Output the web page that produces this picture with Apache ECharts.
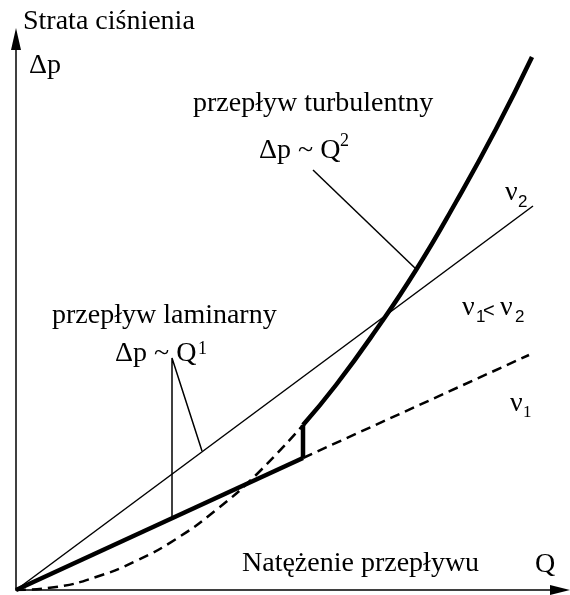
<!DOCTYPE html>
<html>
<head>
<meta charset="utf-8">
<script src="https://cdn.jsdelivr.net/npm/echarts@6/dist/echarts.min.js"></script>
<style>
  html, body { margin: 0; padding: 0; background: #fff; }
  #main { width: 570px; height: 595px; }
</style>
</head>
<body>
<div id="main"></div>
<script>
// units: Q and dp in arbitrary units (1 unit ~ 10 px of the drawing)
var nu2Line = [[0, 0], [51.7, 38.4]];
var nu1Laminar = [[0, 0], [28.7, 13.2]];
var nu1Dashed = [[28.7, 13.2], [51.3, 23.5]];
var jumpLine = [[28.7, 13.2], [28.7, 16.5]];
var quadDashed = [[0, 0], [4, 0.3], [8, 1.3], [12, 2.9], [16, 5.1], [20, 8.0], [24, 11.5], [28.7, 16.5]];
var quadTurbulent = [[28.7, 16.5], [32, 20.5], [36, 26.0], [40, 32.0], [44, 38.8], [48, 46.1], [51.6, 53.3]];
var leaderTurb = [[29.7, 42.0], [40.0, 32.1]];
var leaderLam = [[15.6, 7.2], [15.6, 23.2], [18.6, 13.9]];

var yTitle = 'Strata ciśnienia';
var yVar = 'Δp';
var xTitle = 'Natężenie przepływu';
var xVar = 'Q';
var turbTitle = 'przepływ turbulentny';
var turbLaw = 'Δp ~ Q';
var turbExp = '2';
var lamTitle = 'przepływ laminarny';
var lamLaw = 'Δp ~ Q';
var lamExp = '1';
var nu = 'ν';

var SERIF = "'Liberation Serif', 'DejaVu Serif', serif";
var SANS = "'Liberation Sans', Arial, sans-serif";

var chartDom = document.getElementById('main');
var myChart = echarts.init(chartDom);
var option;

// text placed by its left edge and baseline
function label(text, x, base, size, family) {
  return {
    type: 'text',
    x: x,
    y: base - size * 0.3375,
    style: {
      text: text,
      font: size + 'px ' + (family || SERIF),
      fill: '#000',
      align: 'left',
      verticalAlign: 'middle'
    },
    z: 100
  };
}

function line(data, width, dashed, smooth) {
  return {
    type: 'line',
    data: data,
    symbol: 'none',
    smooth: smooth || false,
    silent: true,
    lineStyle: {
      color: '#000',
      width: width,
      type: dashed ? [10, 6] : 'solid',
      cap: 'butt'
    }
  };
}

var axisCommon = {
  type: 'value',
  min: 0,
  axisLabel: { show: false },
  axisTick: { show: false },
  splitLine: { show: false }
};

option = {
  animation: false,
  backgroundColor: '#fff',
  grid: { left: 16, right: 10, top: 39, bottom: 5 },
  xAxis: Object.assign({}, axisCommon, {
    max: 54.4,
    axisLine: {
      show: true,
      symbol: ['none', 'triangle'],
      symbolSize: [10, 20],
      lineStyle: { color: '#000', width: 1.5 }
    }
  }),
  yAxis: Object.assign({}, axisCommon, {
    max: 55.1,
    axisLine: {
      show: true,
      symbol: ['none', 'triangle'],
      symbolSize: [10, 22],
      lineStyle: { color: '#000', width: 1.5 }
    }
  }),
  series: [
    line(nu2Line, 1.5),
    line(nu1Dashed, 2.5, true),
    line(quadDashed, 2.5, true, true),
    line(nu1Laminar, 4.5),
    line(jumpLine, 4.5),
    line(quadTurbulent, 4.5, false, true),
    line(leaderTurb, 1.5),
    line(leaderLam, 1.5)
  ],
  graphic: [
    label(yTitle, 23, 31, 28),
    label(yVar, 29, 75, 28),
    label(turbTitle, 193, 113, 28),
    label(turbLaw, 259, 160, 28),
    label(turbExp, 340, 147, 18),
    label(nu, 505, 202, 28),
    label('2', 518, 208, 17, SANS),
    label(nu, 462, 317, 28),
    label('1', 476, 323, 17, SANS),
    label('<', 483, 318, 20, SANS),
    label(nu, 500, 317, 28),
    label('2', 515, 323, 17, SANS),
    label(nu, 510, 413, 28),
    label('1', 523, 418, 17),
    label(lamTitle, 52, 325, 28),
    label(lamLaw, 115, 363, 28),
    label(lamExp, 198, 355, 18),
    label(xTitle, 242, 573, 28),
    label(xVar, 535, 574, 28)
  ]
};

option && myChart.setOption(option);
</script>
</body>
</html>
